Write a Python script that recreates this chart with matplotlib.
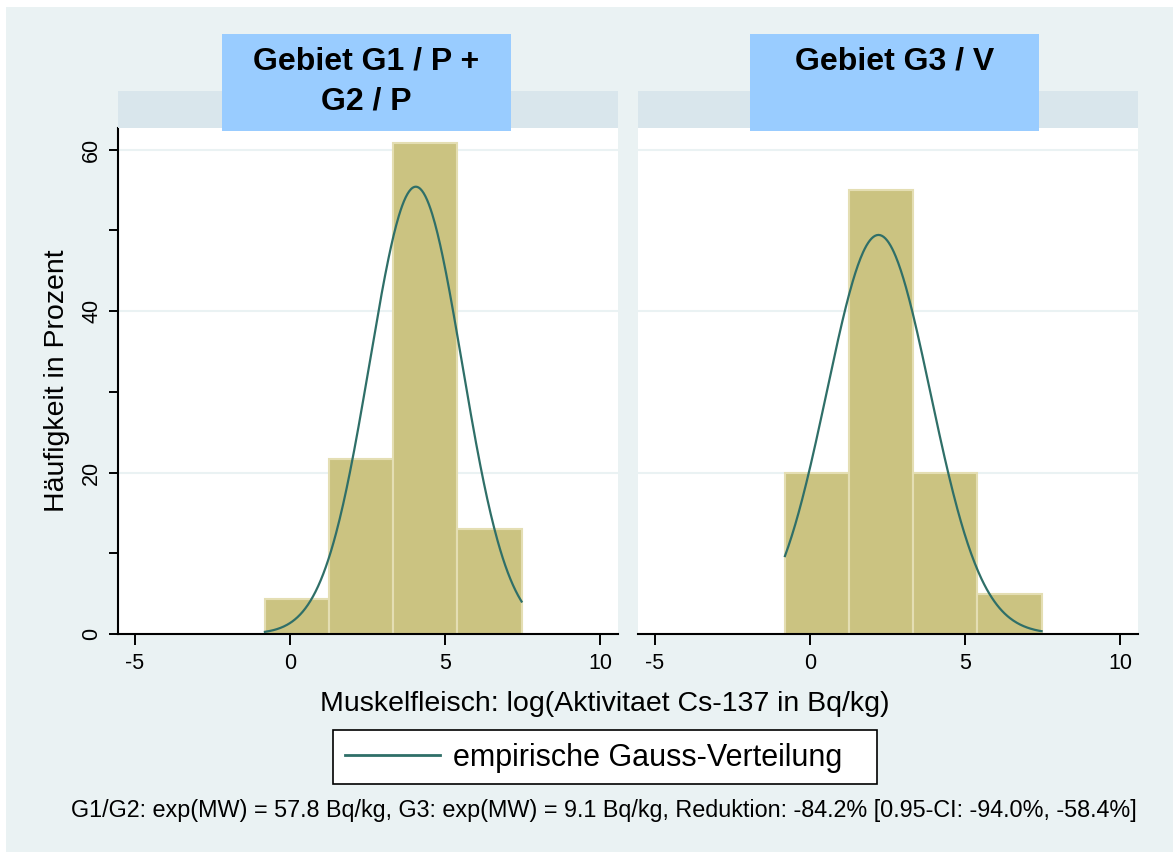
import numpy as np
import matplotlib.pyplot as plt
from matplotlib.patches import Rectangle
from matplotlib.lines import Line2D

plt.rcParams['font.family'] = ['Liberation Sans', 'DejaVu Sans']

# histogram bins (log activity) and bar heights in percent
bin_start = -0.81
bin_width = 2.07
pct_g12 = [4.3, 21.7, 60.9, 13.0]
pct_g3 = [20.0, 55.0, 20.0, 5.0]

# fitted normal: mean = log(exp(MW)), sd of log values
mean_g12, sd_g12 = np.log(57.8), 1.49
mean_g3, sd_g3 = np.log(9.1), 1.67

panel_titles = [['Gebiet G1 / P +', 'G2 / P'], ['Gebiet G3 / V']]
xticks = [-5, 0, 5, 10]
yticks = [0, 20, 40, 60]
yminor = [10, 30, 50]

bg = '#EAF2F3'
strip_col = '#D9E6EC'
title_col = '#99CCFF'
bar_col = '#CBC381'
bar_edge = '#E4DEB3'
line_col = '#2F6F68'

W, H = 1173, 852
fig = plt.figure(figsize=(W / 100, H / 100), dpi=100)
fig.patch.set_facecolor('white')


def px(x0, y0, x1, y1):
    # pixel box (top-left origin) -> figure fraction rect
    return (x0 / W, 1 - y1 / H, (x1 - x0) / W, (y1 - y0) / H)


fig.patches.append(Rectangle((6 / W, 0), 1, 1 - 7 / H, transform=fig.transFigure,
                             facecolor=bg, edgecolor='none', zorder=-5))

panels = [(118, pct_g12, mean_g12, sd_g12, 222), (638, pct_g3, mean_g3, sd_g3, 750)]
edges = bin_start + bin_width * np.arange(5)

for i, (x0, pct, mu, sd, tx) in enumerate(panels):
    ax = fig.add_axes(px(x0, 128, x0 + 500, 634))
    ax.set_facecolor('white')
    ax.bar(edges[:-1], pct, width=bin_width, align='edge', color=bar_col,
           edgecolor=bar_edge, linewidth=1.5, zorder=2)
    xs = np.linspace(edges[0], edges[-1], 300)
    curve = 100 * bin_width * np.exp(-0.5 * ((xs - mu) / sd) ** 2) / (np.sqrt(2 * np.pi) * sd)
    ax.plot(xs, curve, color=line_col, lw=1.6, zorder=3)

    ax.set_xlim(-5.55, 10.58)
    ax.set_ylim(0, 62.7)
    ax.set_xticks(xticks)
    ax.set_xticklabels([str(t) for t in xticks], fontsize=15.5)
    ax.set_yticks(yticks)
    ax.set_yticks(yminor, minor=True)
    for y in yticks[1:]:
        ax.axhline(y, color=bg, lw=1.5, zorder=1)
    for s in ['top', 'right']:
        ax.spines[s].set_visible(False)
    ax.spines['bottom'].set_linewidth(1.5)
    ax.tick_params(axis='x', direction='out', length=8, width=1.4, pad=6)
    if i == 0:
        ax.spines['left'].set_linewidth(1.5)
        ax.set_yticklabels([str(t) for t in yticks], fontsize=15.5, rotation=90, va='center')
        ax.tick_params(axis='y', which='both', direction='out', length=6.5, width=1.4, pad=5)
        ax.set_ylabel('Häufigkeit in Prozent', fontsize=20.5, labelpad=8)
    else:
        ax.spines['left'].set_visible(False)
        ax.tick_params(axis='y', which='both', left=False, labelleft=False)

    # panel header strip and title box
    fig.patches.append(Rectangle(px(x0, 91, x0 + 500, 128)[:2], 500 / W, 37 / H,
                                 transform=fig.transFigure, facecolor=strip_col,
                                 edgecolor='none', zorder=1))
    fig.patches.append(Rectangle(px(tx, 34, tx + 289, 131)[:2], 289 / W, 97 / H,
                                 transform=fig.transFigure, facecolor=title_col,
                                 edgecolor='none', zorder=2))
    for k, line in enumerate(panel_titles[i]):
        fig.text((tx + 144.5) / W, 1 - (62 + 39 * k) / H, line, ha='center', va='center',
                 fontsize=23, fontweight='bold', zorder=3)

fig.text(605 / W, 1 - 704 / H, 'Muskelfleisch: log(Aktivitaet Cs-137 in Bq/kg)',
         ha='center', va='center', fontsize=20.5)

# legend
fig.patches.append(Rectangle(px(333, 730, 877, 784)[:2], 544 / W, 54 / H,
                             transform=fig.transFigure, facecolor='white',
                             edgecolor='black', linewidth=1.2, zorder=2))
fig.legend([Line2D([], [], color=line_col, lw=2)], ['empirische Gauss-Verteilung'],
           loc='center left', bbox_to_anchor=(330 / W, 1 - 758 / H), frameon=False,
           fontsize=22, handlelength=3.1, handletextpad=0.42, borderpad=0)

fig.text(604 / W, 1 - 810 / H,
         'G1/G2: exp(MW) = 57.8 Bq/kg, G3: exp(MW) = 9.1 Bq/kg, '
         'Reduktion: -84.2% [0.95-CI: -94.0%, -58.4%]',
         ha='center', va='center', fontsize=16.8)

fig.savefig('out.png', dpi=100, facecolor=fig.get_facecolor())
